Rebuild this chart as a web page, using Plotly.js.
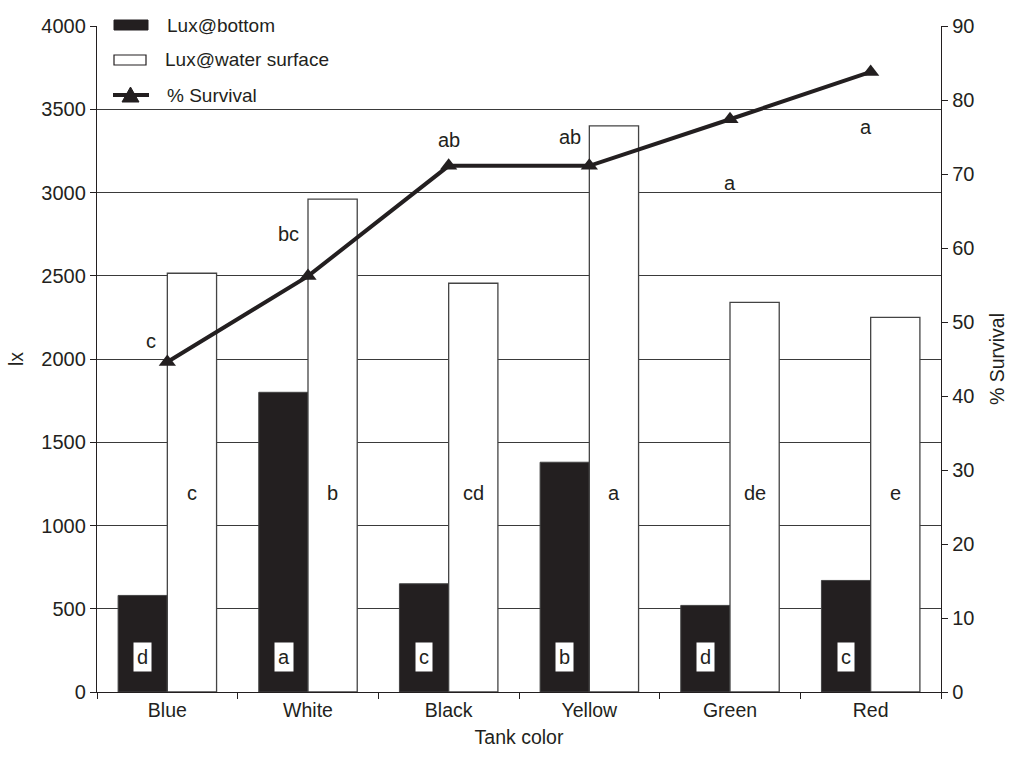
<!DOCTYPE html>
<html>
<head>
<meta charset="utf-8">
<script src="https://cdn.plot.ly/plotly-3.0.1.min.js"></script>
<style>html,body{margin:0;padding:0;background:#fff;}#chart{width:1010px;height:757px;}</style>
</head>
<body>
<div id="chart"></div>
<script>
const categories = ["Blue", "White", "Black", "Yellow", "Green", "Red"];
const luxBottom = [580, 1800, 650, 1380, 520, 670];
const luxSurface = [2515, 2960, 2455, 3400, 2340, 2250];
const survival = [44.6, 56.2, 71.1, 71.1, 77.4, 83.8];
const bottomLetters = ["d", "a", "c", "b", "d", "c"];
const surfaceLetters = ["c", "b", "cd", "a", "de", "e"];
const survivalLetters = ["c", "bc", "ab", "ab", "a", "a"];
const seriesNames = ["Lux@bottom", "Lux@water surface", "% Survival"];

const ink = "#231f20";
const fontFam = "Liberation Sans, Arial, Helvetica, sans-serif";

// plot area in pixels (style only)
const PL = 97, PR = 941, PT = 26, PB = 692;
const px = v => (v - PL) / (PR - PL);
const py = v => (PB - v) / (PB - PT);

const traces = [
  {type: "bar", name: seriesNames[0], x: categories, y: luxBottom, yaxis: "y",
   marker: {color: ink, line: {color: "#444", width: 1}}},
  {type: "bar", name: seriesNames[1], x: categories, y: luxSurface, yaxis: "y",
   marker: {color: "#ffffff", line: {color: "#444", width: 1.3}}},
  {type: "scatter", mode: "lines+markers", name: seriesNames[2], x: categories, y: survival, yaxis: "y2",
   line: {color: ink, width: 4}, marker: {symbol: "triangle-up", size: 15, color: ink}}
];

const survShiftX = [-16, -20, 0, -19, 0, -5];
const survShiftY = [21, 42, 26, 29, -64, -55];

const annotations = [];
categories.forEach((c, i) => {
  annotations.push({x: c, y: 210, xref: "x", yref: "y", text: bottomLetters[i], showarrow: false,
    xshift: -24.5, bgcolor: "#ffffff", borderpad: 3, font: {size: 20, color: ink, family: fontFam}});
  annotations.push({x: c, y: 1195, xref: "x", yref: "y", text: surfaceLetters[i], showarrow: false,
    xshift: 24.5, font: {size: 20, color: ink, family: fontFam}});
  annotations.push({x: c, y: survival[i], xref: "x", yref: "y2", text: survivalLetters[i], showarrow: false,
    xshift: survShiftX[i], yshift: survShiftY[i], font: {size: 20, color: ink, family: fontFam}});
});

// Manual legend (to match the wide rectangle keys)
const legendY = [25, 60, 95];
const legendTextX = [165, 163, 165];
seriesNames.forEach((n, i) => {
  annotations.push({x: px(legendTextX[i]), y: py(legendY[i]), xref: "paper", yref: "paper", text: n,
    showarrow: false, xanchor: "left", yanchor: "middle", font: {size: 19, color: ink, family: fontFam}});
});
const shapes = [
  {type: "rect", xref: "paper", yref: "paper", x0: px(114), x1: px(148), y0: py(20), y1: py(30),
   fillcolor: ink, line: {color: ink, width: 1}},
  {type: "rect", xref: "paper", yref: "paper", x0: px(114), x1: px(146), y0: py(55), y1: py(65),
   fillcolor: "#ffffff", line: {color: ink, width: 1.2}},
  {type: "line", xref: "paper", yref: "paper", x0: px(113), x1: px(149), y0: py(95), y1: py(95),
   line: {color: ink, width: 4}},
  {type: "path", xref: "paper", yref: "paper",
   path: `M ${px(122)} ${py(102)} L ${px(139)} ${py(102)} L ${px(130.5)} ${py(87)} Z`,
   fillcolor: ink, line: {color: ink, width: 1}}
];

const layout = {
  width: 1010, height: 757,
  margin: {l: PL, r: 1010 - PR, t: PT, b: 757 - PB},
  paper_bgcolor: "#ffffff", plot_bgcolor: "#ffffff",
  font: {family: fontFam, color: ink, size: 20},
  barmode: "group", bargap: 0.3, bargroupgap: 0,
  showlegend: false,
  xaxis: {type: "category", range: [-0.5, 5.5], tickson: "boundaries", ticks: "outside", ticklen: 6,
    tickcolor: ink, showline: true, linecolor: ink, linewidth: 1.2, showgrid: false, zeroline: false,
    tickfont: {size: 19.5}, title: {text: "Tank color", font: {size: 19.5}, standoff: 10}, automargin: false},
  yaxis: {range: [0, 4000], dtick: 500, ticks: "outside", ticklen: 6, tickcolor: ink,
    showline: true, linecolor: ink, linewidth: 1.2, showgrid: true, gridcolor: "#3a3a3a", gridwidth: 1,
    zeroline: false, tickfont: {size: 20}, title: {text: "lx", font: {size: 19.5}, standoff: 12}, automargin: false},
  yaxis2: {range: [0, 90], dtick: 10, overlaying: "y", side: "right", ticks: "outside", ticklen: 6,
    tickcolor: ink, showline: true, linecolor: ink, linewidth: 1.2, showgrid: false, zeroline: false,
    tickfont: {size: 20}, title: {text: "% Survival", font: {size: 19.5}, standoff: 16}, automargin: false},
  annotations: annotations,
  shapes: shapes
};

Plotly.newPlot("chart", traces, layout, {displayModeBar: false, staticPlot: true});
</script>
</body>
</html>
